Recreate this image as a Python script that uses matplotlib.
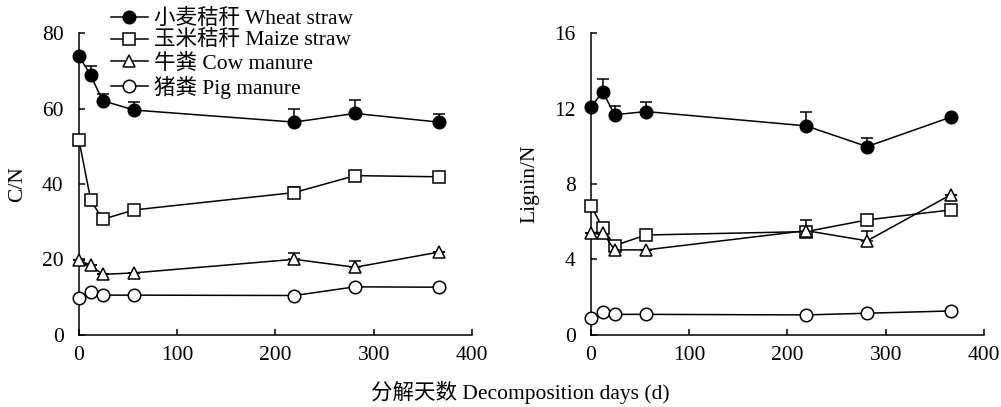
import matplotlib
matplotlib.use('Agg')
import matplotlib.pyplot as plt
import numpy as np

FONT = ['Liberation Serif', 'Noto Sans CJK SC']
plt.rcParams['font.family'] = FONT

days = [0, 12, 24, 56, 219, 281, 366]

labels = ['小麦秸秆 Wheat straw', '玉米秸秆 Maize straw', '牛粪 Cow manure', '猪粪 Pig manure']
markers = ['o', 's', '^', 'o']
faces = ['black', 'white', 'white', 'white']

# C/N
cn_wheat = [73.9, 68.8, 62.1, 59.6, 56.4, 58.7, 56.4]
cn_maize = [51.6, 35.7, 30.6, 33.1, 37.7, 42.2, 41.9]
cn_cow = [19.8, 18.4, 16.0, 16.4, 20.0, 17.9, 21.9]
cn_pig = [9.8, 11.3, 10.5, 10.5, 10.4, 12.7, 12.6]
cn_wheat_err = [0, 2.5, 1.7, 2.2, 3.4, 3.6, 2.1]
cn_maize_err = [0, 0, 0, 0, 1.6, 0, 0]
cn_cow_err = [0, 0, 0, 0, 1.6, 1.6, 0]
cn_pig_err = [0, 0, 0, 0, 0, 0, 0]

# Lignin/N
ln_wheat = [12.08, 12.89, 11.67, 11.84, 11.08, 9.98, 11.54]
ln_maize = [6.85, 5.65, 4.73, 5.29, 5.47, 6.09, 6.62]
ln_cow = [5.42, 5.42, 4.50, 4.50, 5.52, 4.98, 7.42]
ln_pig = [0.90, 1.19, 1.08, 1.08, 1.05, 1.14, 1.26]
ln_wheat_err = [0, 0.67, 0.44, 0.53, 0.73, 0.47, 0]
ln_maize_err = [0, 0, 0, 0, 0, 0, 0]
ln_cow_err = [0, 0, 0, 0, 0.55, 0.5, 0]
ln_pig_err = [0, 0, 0, 0, 0, 0, 0]

fig = plt.figure(figsize=(10.01, 4.07), dpi=100)
ax1 = fig.add_axes([0.0789, 0.1776, 0.3926, 0.741])
ax2 = fig.add_axes([0.5904, 0.1776, 0.3926, 0.741])


def draw(ax, series, errs, ymax, yticks, ylabel, labelpad):
    handles = []
    for vals, err, m, fc, lab in zip(series, errs, markers, faces, labels):
        err = np.array(err)
        ax.errorbar(days, vals, yerr=[np.zeros_like(err), err], fmt='none',
                    ecolor='black', elinewidth=1.1, capsize=4, capthick=1.1,
                    zorder=2, clip_on=False)
        h, = ax.plot(days, vals, color='black', lw=1.1, marker=m,
                     markersize=9 if m != '^' else 8.5, markerfacecolor=fc,
                     markeredgecolor='black', markeredgewidth=1.1,
                     zorder=3, clip_on=False, label=lab)
        handles.append(h)
    ax.set_xlim(0, 400)
    ax.set_ylim(0, ymax)
    ax.set_xticks([0, 100, 200, 300, 400])
    ax.set_yticks(yticks)
    for s in ['top', 'right']:
        ax.spines[s].set_visible(False)
    for s in ['left', 'bottom']:
        ax.spines[s].set_linewidth(1.1)
    ax.tick_params(axis='both', direction='in', length=4, width=1.1,
                   labelsize=15.5)
    ax.tick_params(axis='y', pad=11)
    ax.tick_params(axis='x', pad=8)
    ax.set_ylabel(ylabel, fontsize=15.5, labelpad=labelpad)
    return handles


handles = draw(ax1, [cn_wheat, cn_maize, cn_cow, cn_pig],
               [cn_wheat_err, cn_maize_err, cn_cow_err, cn_pig_err],
               80, [0, 20, 40, 60, 80], 'C/N', 11)
draw(ax2, [ln_wheat, ln_maize, ln_cow, ln_pig],
     [ln_wheat_err, ln_maize_err, ln_cow_err, ln_pig_err],
     16, [0, 4, 8, 12, 16], 'Lignin/N', 11)

fig.legend(handles=handles, loc='upper left', bbox_to_anchor=(0.111, 0.978),
           frameon=False, fontsize=15.5, handlelength=1.7, handletextpad=0.3,
           labelspacing=0.1, borderpad=0, borderaxespad=0)

fig.text(0.52, 1 - 392 / 407, '分解天数 Decomposition days (d)', ha='center',
         va='center', fontsize=15.5)

fig.savefig('out.png', dpi=100)
